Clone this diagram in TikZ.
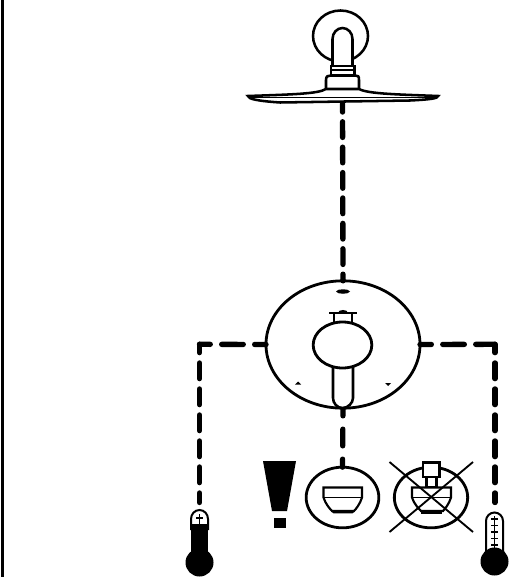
\documentclass[tikz,border=0pt]{standalone}
\usetikzlibrary{shapes.geometric,calc}
\tikzset{
  px/.style={x=0.75pt,y=-0.75pt},
  outline/.style={draw=black,line width=1.9pt,fill=white},
  thin outline/.style={draw=black,line width=1.4pt},
  oval/.style={ellipse,draw=black,line width=2.1pt,fill=white,inner sep=0pt,outer sep=0pt},
  pipe/.style={draw=black,line width=4pt,line cap=round,line join=round},
  pipe v/.style={pipe,dash pattern=on 11.75pt off 7.75pt},
  pipe h/.style={pipe,dash pattern=on 16.2pt off 8.55pt,dash phase=7.7pt},
  solidblack/.style={fill=black,draw=none}
}
\begin{document}
\begin{tikzpicture}[px]
\useasboundingbox (0,0) rectangle (509,577);
\fill[white] (0,0) rectangle (509,577);
\draw[line width=1.6pt] (2.5,0) -- (2.5,577);
% connector coordinates
\coordinate (headbottom) at (342.5,103.7);
\coordinate (lcorner) at (199.5,344.3);
\coordinate (rcorner) at (495,344.3);
\coordinate (lend) at (199.5,502.5);
\coordinate (rend) at (495,502.5);
% mixer plate
\node[oval,minimum width=115.5pt,minimum height=95.5pt] (plate) at (343,344.5) {};
\node[oval,minimum width=54.5pt,minimum height=45.5pt] (bowlA) at (342.5,497.5) {};
\node[oval,minimum width=55pt,minimum height=45.5pt] (bowlB) at (431,497.5) {};
% connectors
\draw[pipe,dash pattern=on 11.75pt off 7.3pt,dash phase=5.5pt] (headbottom) -- (plate.north);
\draw[pipe h] (plate.west) -- (lcorner);
\draw[pipe v,dash phase=5.5pt] (lcorner) -- (lend);
\draw[pipe h] (plate.east) -- (rcorner);
\draw[pipe v,dash phase=5.5pt] (rcorner) -- (rend);
\draw[pipe,dash pattern=on 12.5pt off 10pt,dash phase=6.75pt] (plate.south) -- (bowlA.north);
% shower head
\draw[outline] (340.5,36) ellipse [x radius=27.5,y radius=25.5];
\draw[outline] (332.5,68) -- (332.5,39) arc[start angle=180,end angle=360,x radius=10,y radius=11] -- (352.5,68);
\draw[outline,line width=1.6pt] (331,66) rectangle (354.5,76);
\draw[thin outline] (331,70) -- (354.5,70);
\draw[outline] (326,90) -- (326,80) .. controls (326,76) and (328,75.5) .. (331,75.5) -- (355,75.5) .. controls (358,75.5) and (359,76) .. (359,80) -- (359,90);
\draw[outline] (248,96) .. controls (290,94.5) and (318,94) .. (326,89) -- (359,89) .. controls (368,94) and (400,94.5) .. (438,96) .. controls (438,98.5) and (430,99.5) .. (410,100.5) -- (280,102.5) .. controls (258,101) and (248,99) .. (248,96) -- cycle;
\draw[thin outline] (249,97.5) -- (437,97.5);
% mixer details
\draw[solidblack] (336,291.5) .. controls (337,288.5) and (349,288.5) .. (350,291.5) .. controls (349,294.5) and (337,294.5) .. (336,291.5) -- cycle;
\draw[thin outline,fill=none] (329,313) -- (357,313);
\draw[outline,line width=1.5pt] (334,323) -- (334,313) -- (352,313) -- (352,323);
\fill (338,313) .. controls (338,309) and (348,309) .. (348,313) -- cycle;
\draw[outline,line width=1.9pt] (333,366) -- (333,398) .. controls (333,403) and (337,408) .. (342.5,408) .. controls (348,408) and (353,403) .. (353,398) -- (353,366);
\node[oval,minimum width=44pt,minimum height=34.5pt] (knob) at (342.5,345) {};
\fill (295,384.5) -- (298,381.5) -- (301,384.5) -- cycle;
\fill (385,383) -- (391,383) -- (388,386) -- cycle;
% bowl icon A
\draw[outline,line width=1.6pt] (323.5,487.5) -- (362,487.5) -- (362,497.5) .. controls (360,504) and (356,509) .. (354,511) -- (332,511) .. controls (330,509) and (325.5,504) .. (323.5,497.5) -- cycle;
\draw[thin outline] (323.5,497.5) -- (362,497.5);
\draw[thin outline] (332,511) -- (334,512.5) -- (352,512.5) -- (354,511);
% exclamation
\fill (263,461) -- (296,461) -- (287,511) -- (272,511) -- cycle;
\fill (273.5,518) rectangle (286,528);
% crossed icon B
\draw[outline,line width=1.6pt] (423,462.5) rectangle (439.5,477);
\draw[outline,line width=1.6pt] (426.5,477) rectangle (436.5,487.5);
\draw[outline,line width=1.6pt] (412,487.5) -- (451,487.5) -- (451,497.5) .. controls (449,504) and (445,509) .. (443,511) -- (421,511) .. controls (419,509) and (414,504) .. (412,497.5) -- cycle;
\draw[thin outline] (412,497.5) -- (451,497.5);
\draw[line width=2.4pt] (421,512.5) -- (442,512.5);
\draw[thin outline] (389.5,462) -- (473,532);
\draw[thin outline] (389.5,532) -- (473,462);
% left thermometer
\draw[outline,line width=1.5pt] (191,530) -- (191,519) arc[start angle=180,end angle=360,x radius=8.5,y radius=9] -- (208,530);
\fill (191,523.5) -- (208,523.5) -- (208,555) -- (191,555) -- cycle;
\fill (199.5,562.5) circle [radius=14];
\draw[line width=1pt] (199.5,514) -- (199.5,524) (196,518) -- (203,518);
% right thermometer
\draw[outline,line width=1.5pt] (486,555) -- (486,521) arc[start angle=180,end angle=360,x radius=8.5,y radius=8.5] -- (503,555);
\fill (494.5,561.5) circle [radius=14];
\draw[line width=1pt] (494.5,516) -- (494.5,552);
\foreach \ty in {519,525.5,532,538.5,545,551}
  \draw[line width=0.8pt] (491,\ty) -- (498,\ty);
\end{tikzpicture}
\end{document}
